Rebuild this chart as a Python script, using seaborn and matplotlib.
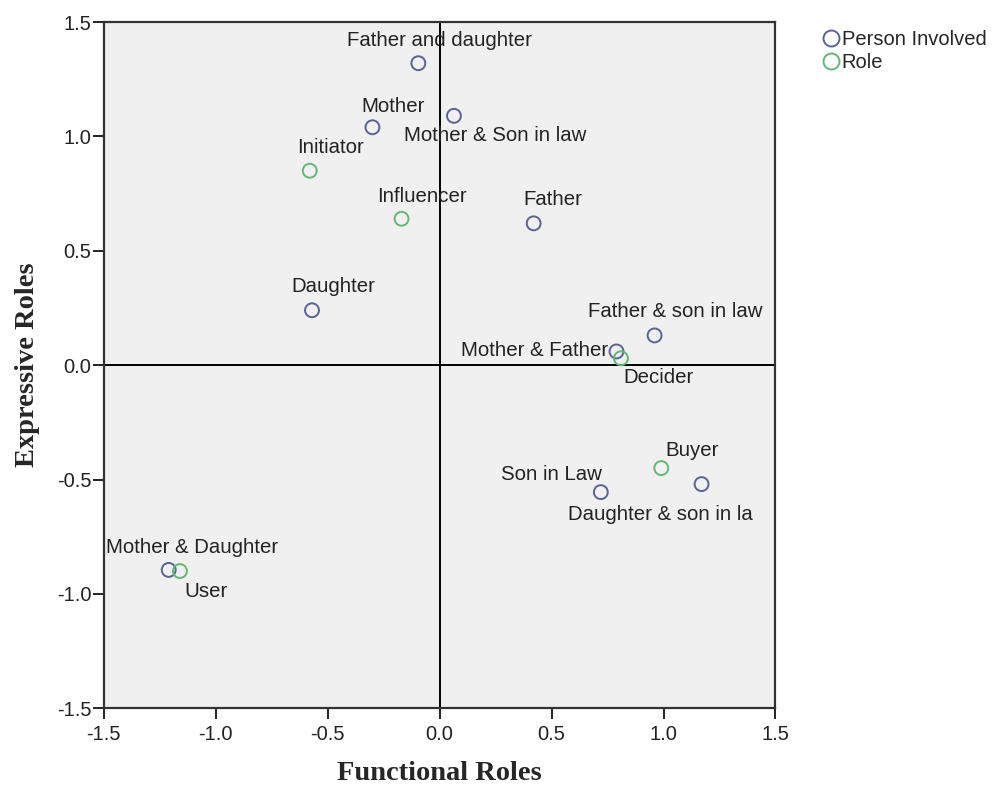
import pandas as pd
import matplotlib
matplotlib.use("Agg")
import matplotlib.pyplot as plt
from matplotlib.lines import Line2D
import seaborn as sns

# Koordinat titik
person_names = ['Father and daughter', 'Mother', 'Mother & Son in law', 'Father',
                'Daughter', 'Father & son in law', 'Mother & Father', 'Son in Law',
                'Daughter & son in la', 'Mother & Daughter']
person_x = [-0.095, -0.30, 0.064, 0.42, -0.57, 0.96, 0.79, 0.72, 1.17, -1.21]
person_y = [1.32, 1.04, 1.09, 0.62, 0.24, 0.13, 0.06, -0.555, -0.52, -0.895]

role_names = ['Initiator', 'Influencer', 'Decider', 'Buyer', 'User']
role_x = [-0.58, -0.17, 0.81, 0.99, -1.16]
role_y = [0.85, 0.64, 0.03, -0.45, -0.90]

groups = ['Person Involved', 'Role']
ticks = [-1.5, -1.0, -0.5, 0.0, 0.5, 1.0, 1.5]

df = pd.DataFrame({
    'name': person_names + role_names,
    'x': person_x + role_x,
    'y': person_y + role_y,
    'group': [groups[0]] * len(person_names) + [groups[1]] * len(role_names),
})

colors = {'Person Involved': '#5a6296', 'Role': '#62b874'}

# posisi label relatif terhadap titik (points), ha
label_pos = {
    'Father and daughter': (15, 16, 'center'),
    'Mother': (15, 15, 'center'),
    'Mother & Son in law': (30, -14, 'center'),
    'Initiator': (15, 17, 'center'),
    'Influencer': (15, 16, 'center'),
    'Father': (14, 17, 'center'),
    'Daughter': (15, 17, 'center'),
    'Father & son in law': (15, 17, 'center'),
    'Mother & Father': (-6, 1, 'right'),
    'Decider': (27, -14, 'center'),
    'Buyer': (22, 13, 'center'),
    'Son in Law': (1, 13, 'right'),
    'Daughter & son in la': (-30, -22, 'center'),
    'Mother & Daughter': (17, 16, 'center'),
    'User': (19, -15, 'center'),
}

sns.set_style('white')
plt.rcParams['font.family'] = ['Liberation Sans', 'DejaVu Sans']

fig = plt.figure(figsize=(9.98, 7.87), dpi=100)
ax = fig.add_axes([0.104, 0.100, 0.673, 0.872])
ax.set_facecolor('#f0f0f0')

sns.scatterplot(data=df, x='x', y='y', hue='group', palette=colors, s=100,
                legend=False, ax=ax, zorder=3)
for coll in ax.collections:
    fc = coll.get_facecolors()
    coll.set_edgecolors(fc)
    coll.set_facecolor('none')
    coll.set_linewidth(1.4)

for _, r in df.iterrows():
    dx, dy, ha = label_pos[r['name']]
    ax.annotate(r['name'], (r['x'], r['y']), xytext=(dx, dy), textcoords='offset points',
                ha=ha, va='center', fontsize=14.7, color='#222222', zorder=4)

ax.axhline(0, color='black', lw=1.4, zorder=2)
ax.axvline(0, color='black', lw=1.4, zorder=2)

ax.set_xlim(-1.5, 1.5)
ax.set_ylim(-1.5, 1.5)
ax.set_xticks(ticks)
ax.set_yticks(ticks)
ax.set_xticklabels([f'{t:.1f}' for t in ticks])
ax.set_yticklabels([f'{t:.1f}' for t in ticks])
ax.tick_params(axis='both', direction='out', length=8, width=1.4, labelsize=14.5,
               colors='#222222', bottom=True, left=True, pad=1)
ax.tick_params(axis='x', pad=4)
for side in ['left', 'bottom', 'right', 'top']:
    ax.spines[side].set_color('#333333')
    ax.spines[side].set_linewidth(1.6)

ax.set_xlabel('Functional Roles', fontsize=20.5, fontweight='bold',
              fontfamily='Liberation Serif', labelpad=12)
ax.set_ylabel('Expressive Roles', fontsize=20.5, fontweight='bold',
              fontfamily='Liberation Serif', labelpad=12)

handles = [Line2D([], [], linestyle='none', marker='o', markersize=11.5,
                  markerfacecolor='none', markeredgecolor=colors[g], markeredgewidth=1.4)
           for g in groups]
fig.legend(handles, groups, loc='upper left', bbox_to_anchor=(0.812, 0.975),
           frameon=False, fontsize=14.5, handletextpad=0.05, handlelength=1.0,
           labelspacing=0.2, borderpad=0)

plt.savefig('out.png', dpi=100)
